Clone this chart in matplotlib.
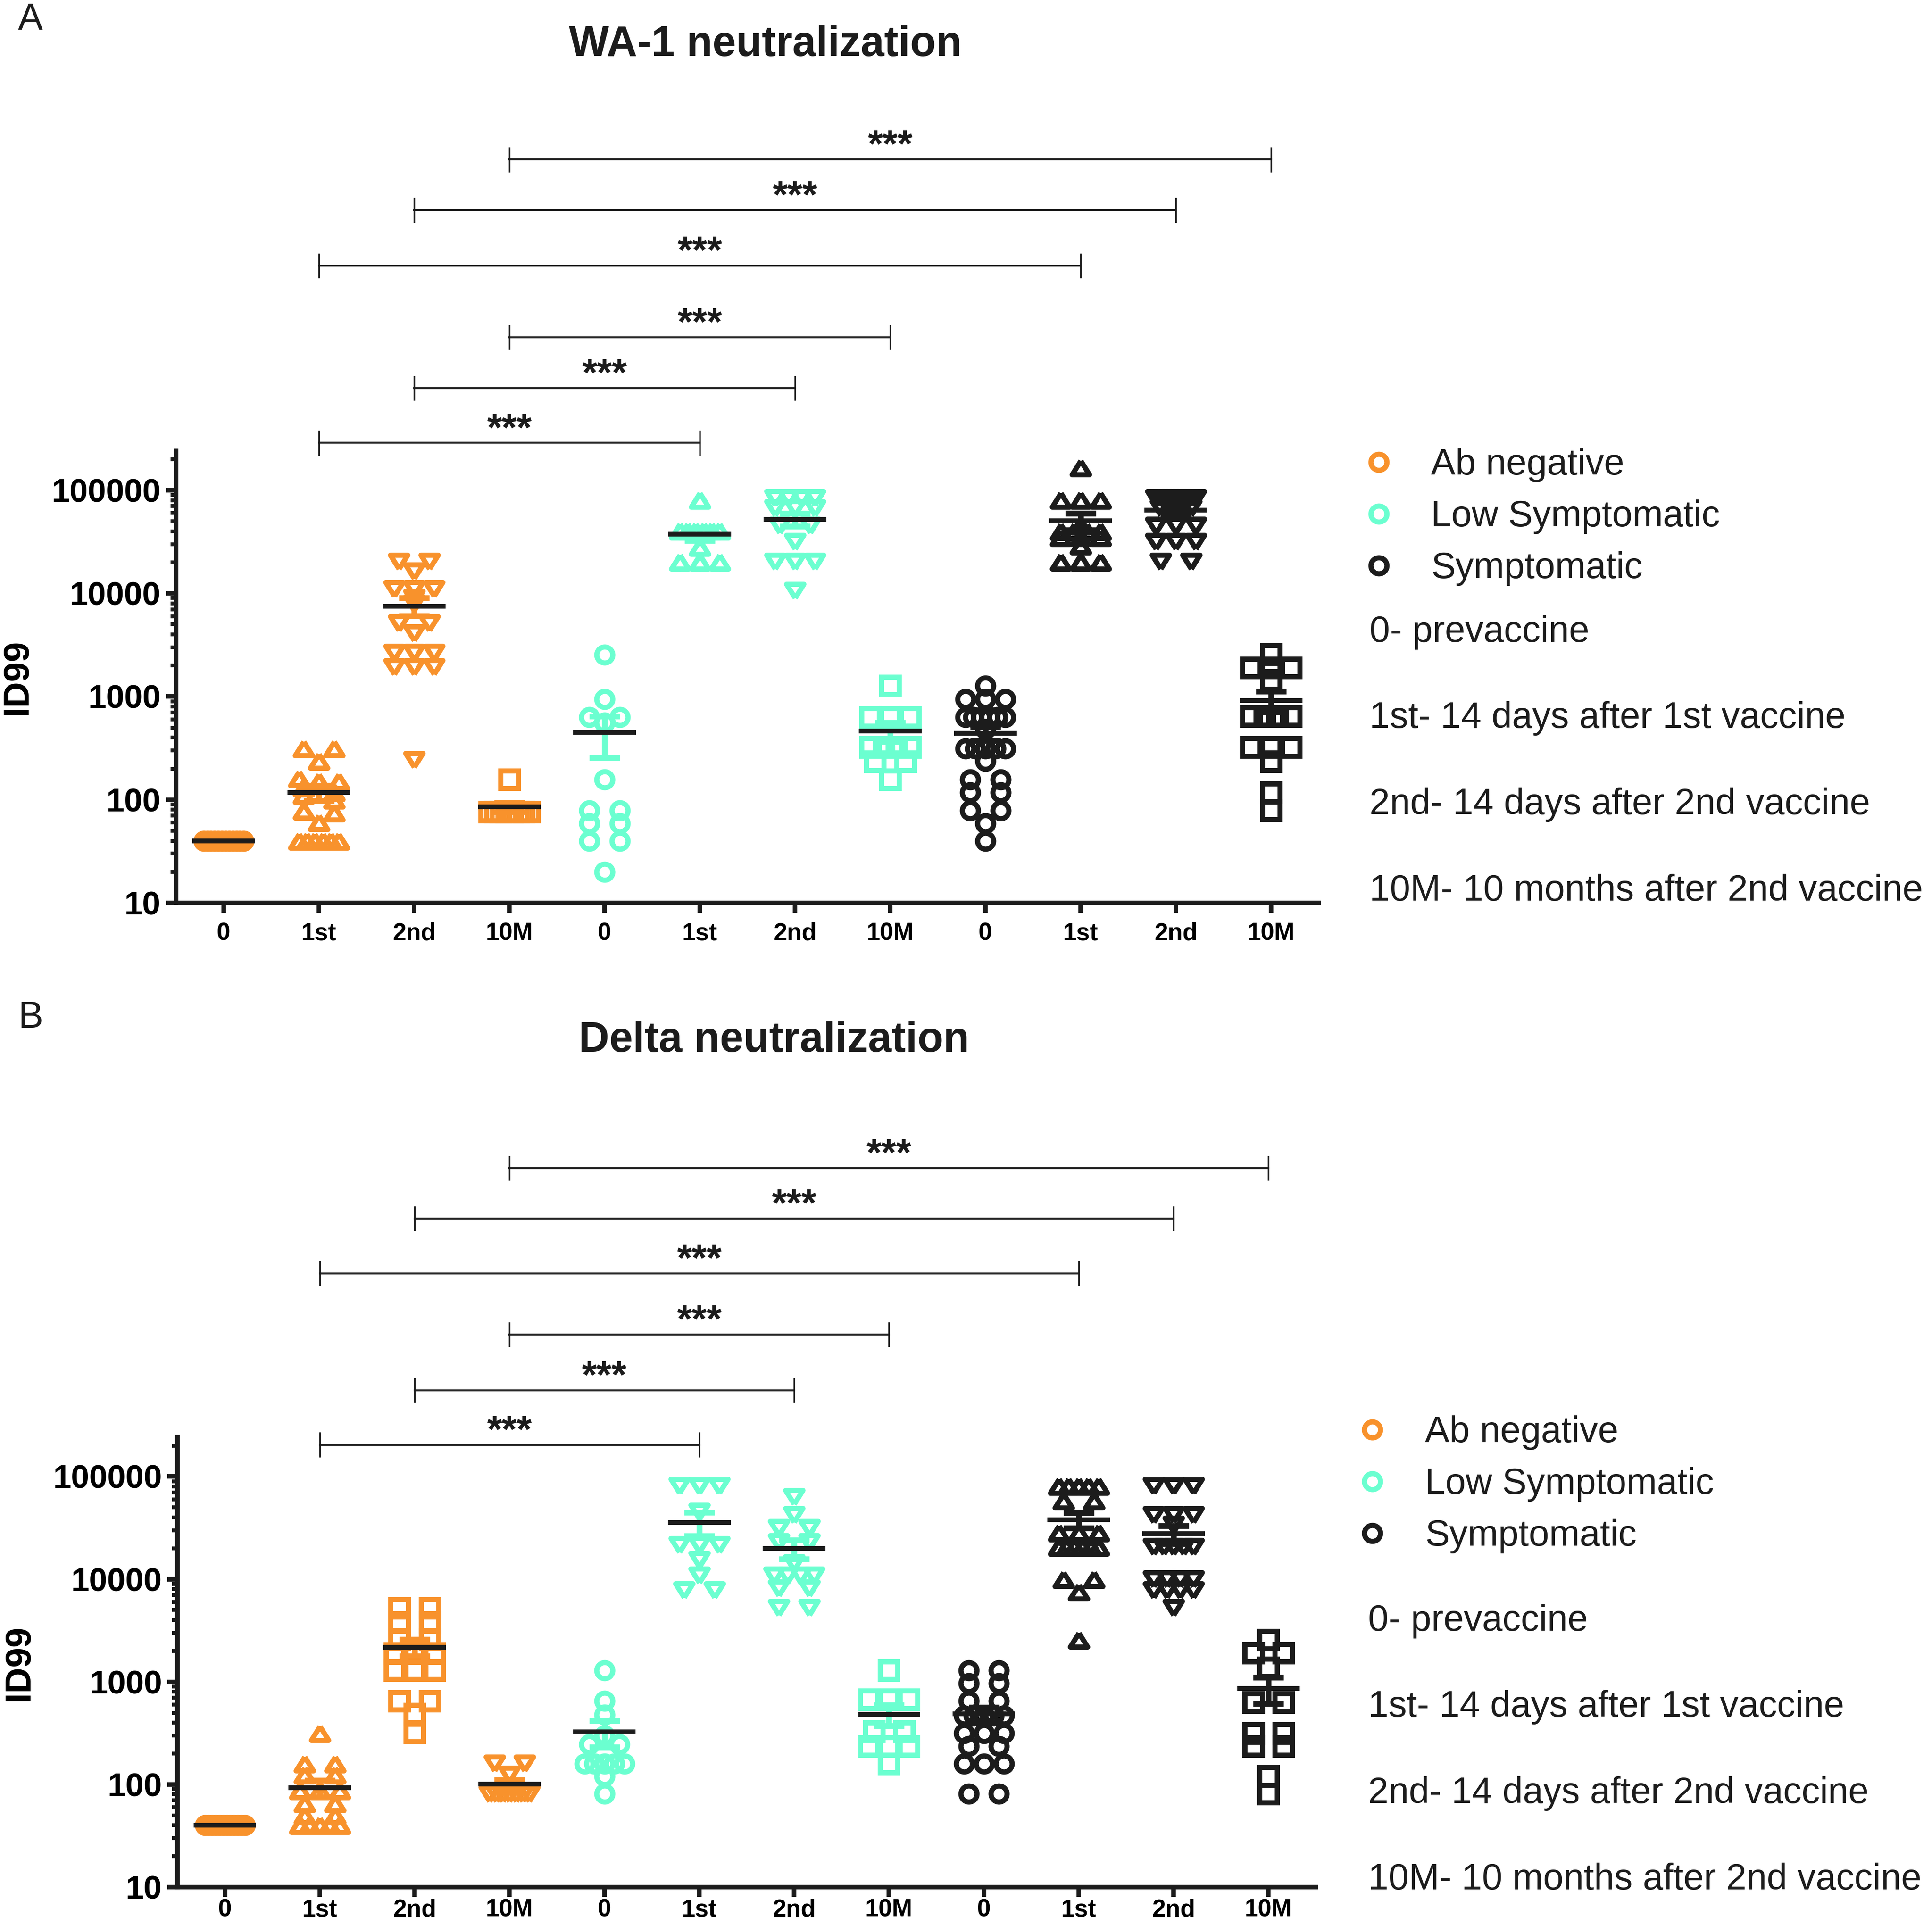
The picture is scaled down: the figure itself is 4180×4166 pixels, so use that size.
#!/usr/bin/env python3
"""WA-1 and Delta neutralization (ID99) by cohort and time point."""

import matplotlib

matplotlib.use("Agg")
import matplotlib.pyplot as plt
import matplotlib.transforms as mtransforms
import numpy as np
from matplotlib.lines import Line2D
from matplotlib.ticker import FixedLocator, LogLocator, NullFormatter

plt.rcParams["font.family"] = ["Liberation Sans", "DejaVu Sans"]

W, H, DPI = 4180, 4166, 100

COHORTS = ["Ab negative", "Low Symptomatic", "Symptomatic"]
COLORS = ["#F8922C", "#6BFFD0", "#1C1C1C"]
TIMEPOINTS = ["0", "1st", "2nd", "10M"]
NOTES = [
    "0- prevaccine",
    "1st- 14 days after 1st vaccine",
    "2nd- 14 days after 2nd vaccine",
    "10M- 10 months after 2nd vaccine",
]
Y_TICKS = [10, 100, 1000, 10000, 100000]
Y_TICK_LABELS = ["10", "100", "1000", "10000", "100000"]

# ID99 values, one list per time point (0, 1st, 2nd, 10M)
wa1_ab_negative = [
    [40, 40, 40, 40, 40, 40, 40, 40, 40, 40, 40, 40],
    [313, 313, 236, 160, 150, 150, 130, 118, 110, 100, 78, 75, 60, 40, 40, 40, 40, 40, 40],
    [20300, 20300, 16200, 11000, 11000, 11000, 9000, 8000, 5150, 5150, 4100,
     2660, 2660, 2660, 1920, 1920, 1920, 243],
    [157, 76, 76, 76, 76, 76, 76, 76, 76],
]
wa1_low_symptomatic = [
    [2530, 944, 630, 630, 560, 157, 79, 79, 59, 59, 40, 40, 20],
    [80500, 40400, 40400, 40400, 40400, 40400, 40400, 28200, 20300, 20300, 20300],
    [83600, 83600, 83600, 83600, 67100, 67100, 67100, 45000, 45000, 31500,
     20300, 20300, 20300, 10500],
    [1270, 630, 630, 630, 323, 323, 323, 323, 235, 235, 157],
]
wa1_symptomatic = [
    [1270, 944, 944, 944, 630, 630, 630, 630, 630, 630, 484, 313, 313, 313, 313, 313,
     238, 157, 157, 118, 118, 79, 79, 59, 40],
    [166000, 80500, 80500, 80500, 45000, 40000, 40000, 40000, 40000, 35000, 35000,
     35000, 29000, 20300, 20300, 20300],
    [83600, 83600, 83600, 83600, 83600, 83600, 83600, 83600, 83600, 83600, 83600, 83600,
     67000, 67000, 45000, 45000, 45000, 31500, 31500, 31500, 20300, 20300],
    [2570, 1910, 1910, 1910, 1440, 646, 646, 646, 646, 323, 323, 323, 235, 118, 79],
]

delta_ab_negative = [
    [40, 40, 40, 40, 40, 40, 40, 40, 40, 40, 40, 40],
    [316, 160, 160, 124, 124, 87, 87, 87, 65, 65, 50, 50, 40, 40, 40, 40, 40],
    [5220, 5220, 3800, 3800, 2580, 2580, 1900, 1900, 1900, 1290, 1290, 1290, 650, 650, 490, 320],
    [160, 160, 124, 80, 80, 80, 80, 80, 80, 80],
]
delta_low_symptomatic = [
    [1290, 650, 480, 300, 246, 246, 160, 160, 160, 160, 160, 120, 81],
    [80600, 80600, 80600, 45300, 21400, 21400, 21400, 15400, 10800, 7750, 7750],
    [62700, 42200, 31600, 31600, 22900, 22900, 14300, 10800, 10800, 10800, 10800,
     8060, 8060, 5240, 5240],
    [1290, 670, 670, 670, 330, 330, 237, 237, 237, 160],
]
delta_symptomatic = [
    [1290, 1290, 964, 964, 650, 650, 466, 466, 466, 466, 466, 316, 316, 316, 237, 237,
     160, 160, 160, 81, 81],
    [80600, 80600, 80600, 80600, 80600, 58300, 58300, 28500, 28500, 28500, 20500, 20500,
     20500, 20500, 20500, 20500, 10000, 10000, 7500, 2550],
    [80600, 80600, 80600, 42200, 42200, 42200, 34000, 20500, 20500, 20500, 20500, 20500,
     10000, 10000, 10000, 10000, 7750, 7750, 7750, 7750, 5240],
    [2550, 1920, 1920, 1380, 630, 630, 316, 316, 237, 237, 120, 81],
]

# comparison brackets: (from column, to column)
BRACKET_PAIRS = [(1, 5), (2, 6), (3, 7), (1, 9), (2, 10), (3, 11)]

TRI_UP = [(0, 0.8), (-1, -0.8), (1, -0.8), (0, 0.8)]
TRI_DOWN = [(0, -0.8), (-1, 0.8), (1, 0.8), (0, -0.8)]
MARKER_SIZE = {"o": 25, "s": 27}
WA1_MARKERS = [["o", TRI_UP, TRI_DOWN, "s"]] * 3
DELTA_MARKERS = [["o", TRI_UP, "s", TRI_DOWN], ["o", TRI_DOWN, TRI_DOWN, "s"], ["o", TRI_UP, TRI_DOWN, "s"]]


def swarm_offsets(values, tol=0.05, width=0.42, max_step=0.32):
    logs = np.log10(values)
    order = np.argsort(-logs, kind="stable")
    offsets = np.zeros(len(values))
    rows, row = [], []
    for idx in order:
        if row and logs[row[0]] - logs[idx] > tol:
            rows.append(row)
            row = []
        row.append(idx)
    rows.append(row)
    for row in rows:
        n = len(row)
        if n > 1:
            step = min(max_step, width / (n - 1))
            for k, idx in enumerate(row):
                offsets[idx] = (k - (n - 1) / 2) * step
    return offsets


def draw_panel(fig, rect, cohorts, markers, bracket_heights, title, title_xy, letter_xy, letter,
               xpad=15):
    ax = fig.add_axes(rect)
    col = 0
    for groups, mks, color in zip(cohorts, markers, COLORS):
        for values, mk in zip(groups, mks):
            values = np.asarray(values, dtype=float)
            xs = col + swarm_offsets(values)
            ms = MARKER_SIZE.get(mk, 27) if isinstance(mk, str) else 27
            ax.plot(xs, values, linestyle="none", marker=mk, ms=ms, mfc="none",
                    mec=color, mew=8, zorder=2, clip_on=False)
            mean = values.mean()
            sem = values.std(ddof=1) / np.sqrt(len(values)) if len(values) > 1 else 0.0
            ax.errorbar(col, mean, yerr=[[min(sem, mean * 0.99)], [sem]], fmt="none",
                        ecolor=color, elinewidth=9, capsize=24, capthick=9, zorder=3)
            ax.hlines(mean, col - 0.33, col + 0.33, color="#1C1C1C", lw=7.5, zorder=4)
            col += 1

    ax.set_yscale("log")
    ax.set_ylim(10, 2.4e5)
    ax.set_xlim(-0.5, 11.5)
    ax.yaxis.set_major_locator(FixedLocator(Y_TICKS))
    ax.set_yticklabels(Y_TICK_LABELS)
    ax.yaxis.set_minor_locator(LogLocator(base=10, subs=range(2, 10), numticks=20))
    ax.yaxis.set_minor_formatter(NullFormatter())
    ax.set_xticks(range(12))
    ax.set_xticklabels(TIMEPOINTS * 3)
    for side in ("top", "right"):
        ax.spines[side].set_visible(False)
    for side in ("left", "bottom"):
        ax.spines[side].set_linewidth(7)
        ax.spines[side].set_color("#1C1C1C")
    ax.tick_params(axis="y", which="major", length=16, width=7, labelsize=51, pad=8, color="#1C1C1C")
    ax.tick_params(axis="y", which="minor", length=9, width=6, color="#1C1C1C")
    ax.tick_params(axis="x", length=15, width=7, labelsize=38, pad=xpad, color="#1C1C1C")
    for lab in ax.get_xticklabels() + ax.get_yticklabels():
        lab.set_fontweight("bold")
    ax.set_ylabel("ID99", fontsize=56, fontweight="bold", va="center")
    ax.yaxis.set_label_coords(-0.139, 0.5)

    trans = mtransforms.blended_transform_factory(ax.transData, ax.transAxes)
    for (a, b), h in zip(BRACKET_PAIRS, bracket_heights):
        ax.plot([a, b], [h, h], transform=trans, color="#1C1C1C", lw=3, clip_on=False)
        for end in (a, b):
            ax.plot([end, end], [h - 0.026, h + 0.026], transform=trans, color="#1C1C1C",
                    lw=2.5, clip_on=False)
        ax.text((a + b) / 2, h + 0.005, "***", transform=trans, ha="center", va="baseline",
                fontsize=60, fontweight="bold", color="#1C1C1C")

    fig.text(title_xy[0] / W, 1 - title_xy[1] / H, title, ha="center", va="baseline",
             fontsize=66, fontweight="bold", color="#1C1C1C")
    fig.text(letter_xy[0] / W, 1 - letter_xy[1] / H, letter, ha="left", va="baseline",
             fontsize=58, color="#1C1C1C")
    return ax


def draw_key(fig, circle_x, text_x, note_x, series_y, note_y):
    for i, (name, color) in enumerate(zip(COHORTS, COLORS)):
        y = series_y + i * 112
        fig.add_artist(Line2D([circle_x / W], [1 - (y - 27) / H], marker="o", ms=25,
                              mfc="none", mec=color, mew=8, transform=fig.transFigure))
        fig.text(text_x / W, 1 - y / H, name, fontsize=57, va="baseline", color="#1C1C1C")
    for j, note in enumerate(NOTES):
        y = note_y + j * 186.5
        fig.text(note_x / W, 1 - y / H, note, fontsize=57, va="baseline", color="#1C1C1C")


fig = plt.figure(figsize=(W / DPI, H / DPI), dpi=DPI)

draw_panel(fig, [381 / W, 1 - 1954 / H, 2472 / W, 978 / H],
           [wa1_ab_negative, wa1_low_symptomatic, wa1_symptomatic], WA1_MARKERS,
           [1.018, 1.139, 1.2515, 1.410, 1.533, 1.645],
           "WA-1 neutralization", (1656, 121), (39, 64), "A")
draw_key(fig, 2983, 3096, 2963, 1027, 1389)

draw_panel(fig, [384 / W, 1 - 4084 / H, 2463 / W, 973 / H],
           [delta_ab_negative, delta_low_symptomatic, delta_symptomatic], DELTA_MARKERS,
           [0.984, 1.105, 1.229, 1.365, 1.487, 1.599],
           "Delta neutralization", (1674, 2276), (39, 2224), "B", xpad=3)
draw_key(fig, 2969, 3083, 2960, 3121, 3529)

fig.savefig("out.png", dpi=DPI)
